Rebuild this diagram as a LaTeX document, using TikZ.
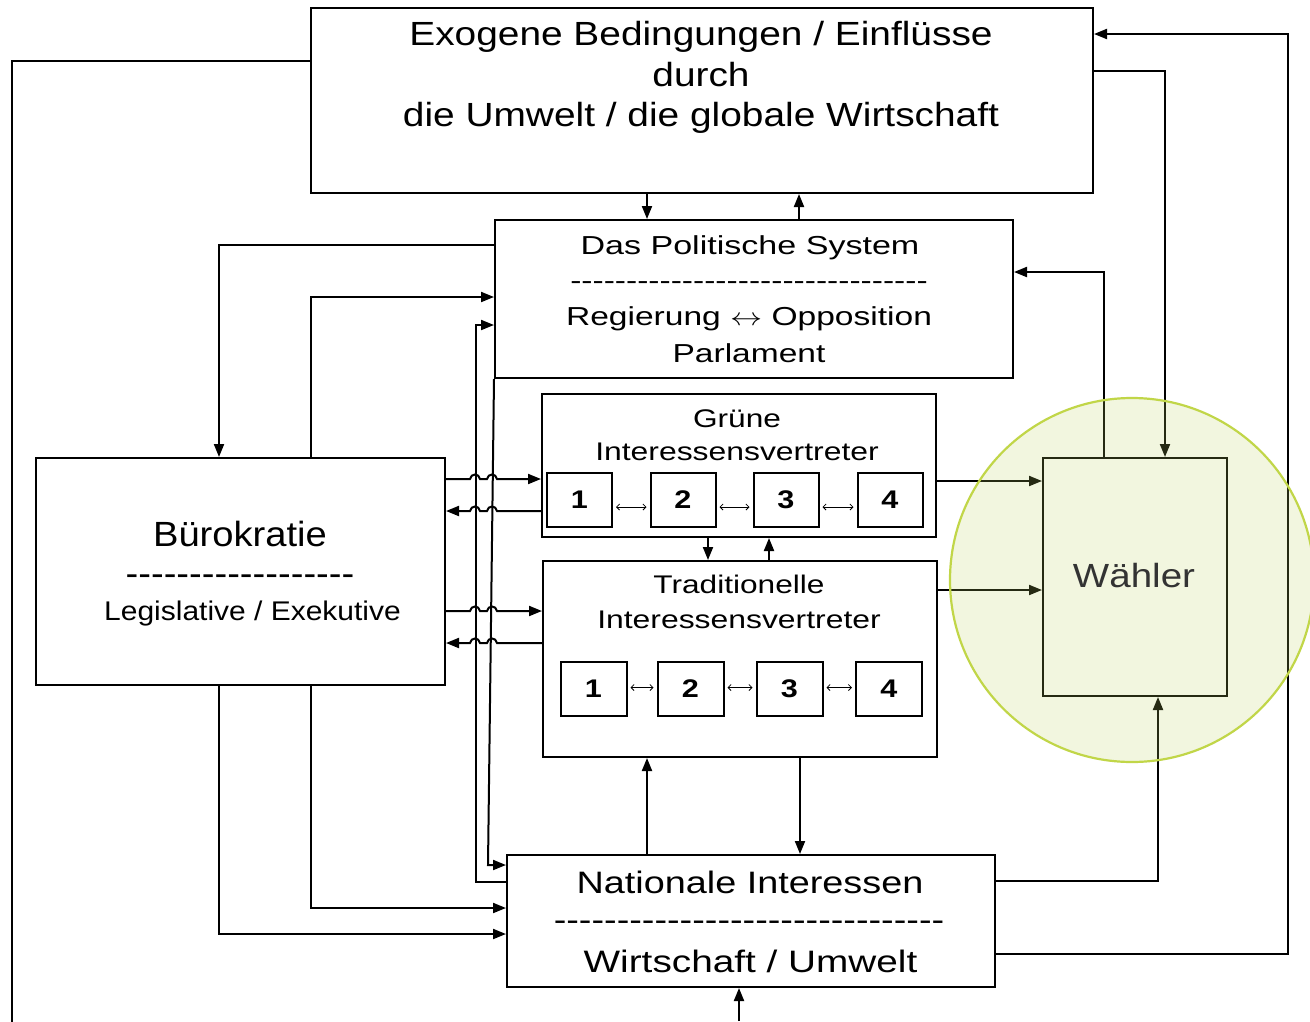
\documentclass[tikz,border=0pt]{standalone}
\usepackage{fontspec}
\setmainfont{Liberation Sans}
\usetikzlibrary{arrows.meta}
\newcommand\tx[3]{\scalebox{#2}[1]{\fontsize{#1}{#1}\selectfont #3}}
\newcommand\hyph[1]{\foreach \i in {1,...,#1}{-\kern0pt}}
\definecolor{circfill}{RGB}{190,210,95}
\definecolor{circline}{RGB}{193,214,72}
\begin{document}
\begin{tikzpicture}[x=1pt,y=-1pt,
  box/.style={draw, line width=2pt, rectangle, inner sep=0pt},
  conn/.style={line width=2pt},
  arr/.style={line width=2pt, -{Triangle[length=13pt,width=10pt]}},
  txt/.style={inner sep=0pt, anchor=base},
  dbl/.style={line width=0.8pt, {Straight Barb[length=3pt,width=6pt]}-{Straight Barb[length=3pt,width=6pt]}, shorten <=3pt, shorten >=3pt},
  numg/.style={box, minimum width=65pt, minimum height=54pt},
  numt/.style={box, minimum width=66pt, minimum height=54pt}
]
\fill[white] (0,0) rectangle (1310,1021);
\useasboundingbox (0,0) rectangle (1310,1021);

% boxes
\node[box, minimum width=782pt, minimum height=185pt] (exo) at (702,100.5) {};
\node[box, minimum width=518pt, minimum height=158pt] (pol) at (754,299) {};
\node[box, minimum width=394pt, minimum height=143pt] (gru) at (739,465.5) {};
\node[box, minimum width=394pt, minimum height=196pt] (tra) at (740,659) {};
\node[box, minimum width=409pt, minimum height=227pt] (bur) at (240.5,571.5) {};
\node[box, minimum width=488pt, minimum height=132pt] (nat) at (751,921) {};
\node[box, minimum width=184pt, minimum height=238pt] (wah) at (1135,577) {};

% texts
\node[txt] (exo1) at (701,45) {\tx{33.5}{1.16}{Exogene Bedingungen / Einflüsse}};
\node[txt] (exo2) at (701,86) {\tx{33.5}{1.16}{durch}};
\node[txt] (exo3) at (701,126) {\tx{33.5}{1.16}{die Umwelt / die globale Wirtschaft}};

\node[txt] (pol1) at (750,254) {\tx{26}{1.31}{Das Politische System}};
\node[txt] (pol2) at (749,289) {\tx{26}{1.29}{\hyph{32}}};
\node[txt] (pol3) at (749,325) {\tx{26}{1.29}{Regierung $\leftrightarrow$ Opposition}};
\node[txt] (pol4) at (749,362) {\tx{26}{1.29}{Parlament}};

\node[txt] (gru1) at (737,427) {\tx{25.5}{1.24}{Grüne}};
\node[txt] (gru2) at (737,460) {\tx{25.5}{1.25}{Interessensvertreter}};

\node[txt] (tra1) at (739,593) {\tx{25.5}{1.24}{Traditionelle}};
\node[txt] (tra2) at (739,628) {\tx{25.5}{1.25}{Interessensvertreter}};

\node[txt] (bur1) at (240,546) {\tx{35}{1.09}{Bürokratie}};
\node[txt] (bur2) at (240,585.5) {\tx{35}{1.09}{\hyph{18}}};
\node[txt] (bur3) at (252.5,620) {\tx{27}{1.11}{Legislative / Exekutive}};

\node[txt] (nat1) at (750,893) {\tx{31}{1.22}{Nationale Interessen}};
\node[txt] (nat2) at (749,930) {\tx{31}{1.22}{\hyph{31}}};
\node[txt] (nat3) at (750.5,972) {\tx{31}{1.25}{Wirtschaft / Umwelt}};

% numbered boxes
\node[numg] (g1) at (579.5,500) {\tx{25.5}{1.2}{\bfseries 1}};
\node[numg] (g2) at (683,500) {\tx{25.5}{1.2}{\bfseries 2}};
\node[numg] (g3) at (786,500) {\tx{25.5}{1.2}{\bfseries 3}};
\node[numg] (g4) at (890,500) {\tx{25.5}{1.2}{\bfseries 4}};
\node[numt] (t1) at (593.5,688.5) {\tx{25.5}{1.2}{\bfseries 1}};
\node[numt] (t2) at (690.5,688.5) {\tx{25.5}{1.2}{\bfseries 2}};
\node[numt] (t3) at (789.5,688.5) {\tx{25.5}{1.2}{\bfseries 3}};
\node[numt] (t4) at (889,688.5) {\tx{25.5}{1.2}{\bfseries 4}};
\draw[dbl] ([yshift=-7pt]g1.east) -- ([yshift=-7pt]g2.west);
\draw[dbl] ([yshift=-7pt]g2.east) -- ([yshift=-7pt]g3.west);
\draw[dbl] ([yshift=-7pt]g3.east) -- ([yshift=-7pt]g4.west);
\draw[dbl] ([yshift=1pt]t1.east) -- ([yshift=1pt]t2.west);
\draw[dbl] ([yshift=1pt]t2.east) -- ([yshift=1pt]t3.west);
\draw[dbl] ([yshift=1pt]t3.east) -- ([yshift=1pt]t4.west);

% connectors
\coordinate (botin) at (739,1021);
\coordinate (leftout) at (12,1030);
\draw[conn] (exo.west |- 0,61) -- (12,61) -- (leftout);
\draw[arr] (exo.south -| 647,0) -- (pol.north -| 647,0);
\draw[arr] (pol.north -| 799,0) -- (exo.south -| 799,0);
\draw[arr] (exo.east |- 0,71) -- (1165,71) -- (wah.north -| 1165,0);
\draw[arr] (nat.east |- 0,954) -- (1288,954) -- (1288,34) -- (exo.east |- 0,34);
\draw[arr] (wah.north -| 1104,0) -- (1104,272) -- (pol.east |- 0,272);
\draw[arr] (pol.west |- 0,245) -- (219,245) -- (bur.north -| 219,0);
\draw[arr] (bur.north -| 311,0) -- (311,297) -- (pol.west |- 0,297);
\draw[arr] (nat.west |- 0,882) -- (476,882) -- (476,325) -- (pol.west |- 0,325);
\draw[arr] (pol.south west) -- (488,865) -- (nat.west |- 0,865);
\draw[arr] (bur.south -| 219,0) -- (219,934) -- (nat.west |- 0,934);
\draw[arr] (bur.south -| 311,0) -- (311,908) -- (nat.west |- 0,908);

% Buerokratie <-> Gruene / Traditionelle with line hops
\draw[arr] (bur.east |- 0,479) -- (470,479) .. controls (471,473) and (479,473) .. (480,479) -- (487,479) .. controls (488,473) and (496,473) .. (497,479) -- (gru.west |- 0,479);
\draw[arr] (gru.west |- 0,511) -- (497,511) .. controls (496,505) and (488,505) .. (487,511) -- (480,511) .. controls (479,505) and (471,505) .. (470,511) -- (bur.east |- 0,511);
\draw[arr] (bur.east |- 0,611) -- (470,611) .. controls (471,605) and (479,605) .. (480,611) -- (487,611) .. controls (488,605) and (496,605) .. (497,611) -- (tra.west |- 0,611);
\draw[arr] (tra.west |- 0,643) -- (497,643) .. controls (496,637) and (488,637) .. (487,643) -- (480,643) .. controls (479,637) and (471,637) .. (470,643) -- (bur.east |- 0,643);

\draw[arr] (gru.south -| 708,0) -- (tra.north -| 708,0);
\draw[arr] (tra.north -| 769,0) -- (gru.south -| 769,0);
\draw[arr] (gru.east |- 0,481) -- (wah.west |- 0,481);
\draw[arr] (tra.east |- 0,590) -- (wah.west |- 0,590);
\draw[arr] (nat.north -| 647,0) -- (tra.south -| 647,0);
\draw[arr] (tra.south -| 800,0) -- (nat.north -| 800,0);
\draw[arr] (nat.east |- 0,881) -- (1158,881) -- (wah.south -| 1158,0);
\draw[arr] (botin) -- (nat.south -| botin);

% green halo around Waehler
\node[circle, minimum size=364pt, inner sep=0pt, fill=circfill, fill opacity=0.2, draw=circline, draw opacity=1, line width=2.2pt] (halo) at (1132,580) {};
\node[txt, text=black!80] (wah1) at (1134,587) {\tx{33.5}{1.15}{Wähler}};
\end{tikzpicture}
\end{document}
